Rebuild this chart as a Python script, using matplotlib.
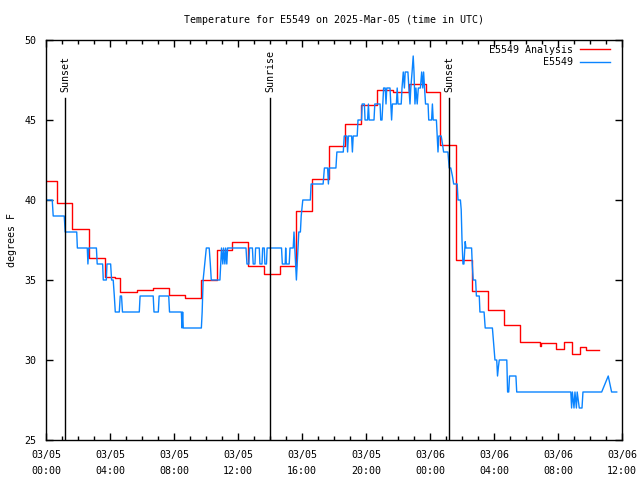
import matplotlib
matplotlib.use("Agg")
import matplotlib.pyplot as plt
from matplotlib.ticker import MultipleLocator
import datetime as dt

plt.rcParams['font.family'] = ['DejaVu Sans Mono']

# ---- data (hours since 2025-03-05 00:00 UTC) ----
red_t = [0, 0.67, 1.65, 2.67, 3.67, 4.3, 4.63, 5.67, 6.67, 7.67, 8.67, 9.67,
         10.67, 11.63, 12.65, 13.63, 14.63, 15.63, 16.63, 17.66, 18.69, 19.7,
         20.7, 21.7, 22.7, 23.75, 24.6, 25.6, 26.6, 27.6, 28.6, 29.6, 30.85,
         30.95, 31.9, 32.4, 32.85, 33.4, 33.75, 34.54]
red_v = [41.2, 39.8, 38.2, 36.4, 35.2, 35.1, 34.25, 34.35, 34.5, 34.05, 33.9, 35.0,
         36.85, 37.4, 35.85, 35.4, 35.85, 39.3, 41.3, 43.4, 44.75, 45.95,
         46.85, 46.75, 47.25, 46.75, 43.45, 36.25, 34.3, 33.1, 32.2, 31.15, 30.85,
         31.05, 30.7, 31.15, 30.4, 30.8, 30.65, 30.65]

blue_t = [0.0, 0.39, 0.45, 1.14, 1.2, 1.92, 1.96, 2.58, 2.62, 2.67, 3.15, 3.2,
          3.54, 3.58, 3.77, 3.81, 4.04, 4.1, 4.2, 4.27, 4.33, 4.58, 4.64, 4.72,
          4.78, 5.83, 5.88, 6.7, 6.75, 7.02, 7.07, 7.67, 7.72, 8.46, 8.5, 8.54,
          8.58, 9.71, 9.76, 9.82, 9.92, 10.02, 10.2, 10.27, 10.33, 10.87, 10.92,
          10.97, 11.05, 11.1, 11.18, 11.23, 11.3, 11.35, 12.5, 12.56, 12.68,
          12.72, 12.9, 12.95, 13.06, 13.1, 13.33, 13.37, 13.5, 13.54, 13.64,
          13.68, 13.78, 13.82, 14.72, 14.77, 14.95, 14.98, 15.02, 15.2, 15.25,
          15.45, 15.5, 15.55, 15.6, 15.65, 15.7, 15.75, 15.8, 15.9, 15.95, 16.05,
          16.52, 16.57, 17.32, 17.4, 17.6, 17.65, 17.7, 18.12, 18.18, 18.58,
          18.64, 18.8, 18.85, 18.9, 19.1, 19.15, 19.2, 19.45, 19.5, 19.72, 19.76,
          19.9, 19.94, 20.1, 20.15, 20.2, 20.5, 20.55, 20.88, 20.92, 21.0, 21.05,
          21.1, 21.2, 21.25, 21.3, 21.5, 21.55, 21.6, 21.65, 21.9, 21.95, 22.0,
          22.2, 22.25, 22.33, 22.4, 22.45, 22.62, 22.68, 22.75, 22.8, 22.88,
          22.95, 23.0, 23.06, 23.12, 23.2, 23.27, 23.4, 23.48, 23.55, 23.6,
          23.66, 23.72, 23.88, 23.92, 24.1, 24.15, 24.2, 24.4, 24.45, 24.5,
          24.55, 24.7, 24.78, 24.85, 25.12, 25.2, 25.3, 25.4, 25.48, 25.7, 25.75,
          25.9, 25.95, 26.0, 26.06, 26.12, 26.2, 26.25, 26.6, 26.64, 26.7, 26.85,
          26.9, 27.08, 27.12, 27.38, 27.45, 27.9, 27.98, 28.06, 28.17, 28.22,
          28.28, 28.33, 28.8, 28.85, 28.92, 28.97, 29.37, 29.42, 32.8, 32.85,
          32.9, 33.0, 33.06, 33.15, 33.2, 33.33, 33.5, 33.56, 34.73, 35.14,
          35.35, 35.67]
blue_v = [40, 40, 39, 39, 38, 38, 37, 37, 36, 37, 37, 36,
          36, 35, 35, 36, 36, 35, 35, 34, 33, 33, 34, 34,
          33, 33, 34, 34, 33, 33, 34, 34, 33, 33, 32, 33,
          32, 32, 33, 35, 36, 37, 37, 36, 35, 35, 36,
          37, 36, 37, 36, 37, 36, 37, 37, 36, 36,
          37, 37, 36, 36, 37, 37, 36, 36, 37, 37,
          36, 36, 37, 37, 36, 36, 37, 36, 36, 37,
          37, 38, 37, 36, 35, 36, 37, 38, 38, 39, 40,
          40, 41, 41, 42, 42, 41, 42, 42, 43, 43,
          44, 44, 43, 44, 44, 43, 44, 44, 45, 45, 46,
          46, 45, 45, 46, 45, 45, 46, 46, 45, 45, 46,
          47, 47, 46, 47, 47, 46, 45, 46, 46, 47, 46,
          46, 47, 48, 47, 48, 48, 47, 46, 47, 48,
          49, 48, 46, 47, 46, 47, 47, 48, 47, 48,
          47, 46, 46, 45, 45, 46, 45, 45, 44, 43,
          44, 44, 43.5, 43, 43, 42, 42, 41.5, 41, 41, 40,
          40, 39.4, 37.5, 36, 36, 37.4, 37, 37, 36, 35, 35,
          34, 34, 33, 33, 32, 32, 31, 30, 30, 29,
          29.6, 30, 30, 28, 28, 29, 29, 28, 28, 27,
          28, 27, 28, 27, 28, 27, 27, 28, 28, 29,
          28, 28]

events = [(1.19, "Sunset"), (14.0, "Sunrise"), (25.19, "Sunset")]

start = dt.datetime(2025, 3, 5, 0, 0)
major_hours = list(range(0, 37, 4))
tick_labels = [(start + dt.timedelta(hours=h)).strftime("%m/%d\n%H:%M") for h in major_hours]

FS = 7.2

fig = plt.figure(figsize=(6.4, 4.8), dpi=100)
ax = fig.add_axes([46/640, 40/480, 576/640, 400/480])

ax.plot(red_t, red_v, drawstyle='steps-post', color='#ff0000', lw=1.0, label='E5549 Analysis')
ax.plot(blue_t, blue_v, color='#0a84ff', lw=1.0, label='E5549')

for h, name in events:
    ax.plot([h, h], [25, 46.4], color='black', lw=1.0)
    ax.text(h, 46.75, name, rotation=90, ha='center', va='bottom', fontsize=FS)

ax.set_xlim(0, 36)
ax.set_ylim(25, 50)
ax.set_xticks(major_hours)
ax.set_xticklabels(tick_labels, linespacing=1.75)
ax.xaxis.set_minor_locator(MultipleLocator(1))
ax.set_yticks(range(25, 51, 5))
ax.tick_params(axis='both', which='both', direction='in', top=True, right=True,
               labelsize=FS, width=1.0)
ax.tick_params(axis='both', which='major', length=5)
ax.tick_params(axis='both', which='minor', length=3)
ax.tick_params(axis='x', pad=7)
ax.tick_params(axis='y', pad=7)
for s in ax.spines.values():
    s.set_linewidth(1.0)

ax.set_ylabel('degrees F', fontsize=FS, labelpad=5)
fig.text(0.522, 0.958, 'Temperature for E5549 on 2025-Mar-05 (time in UTC)',
         ha='center', va='center', fontsize=FS)

ax.legend(loc='upper right', bbox_to_anchor=(0.979, 0.9875), frameon=False,
          markerfirst=False, fontsize=FS, handlelength=3.0, handletextpad=0.7,
          labelspacing=0.25, borderaxespad=0.0, borderpad=0.0)

fig.savefig('out.png', dpi=100)
